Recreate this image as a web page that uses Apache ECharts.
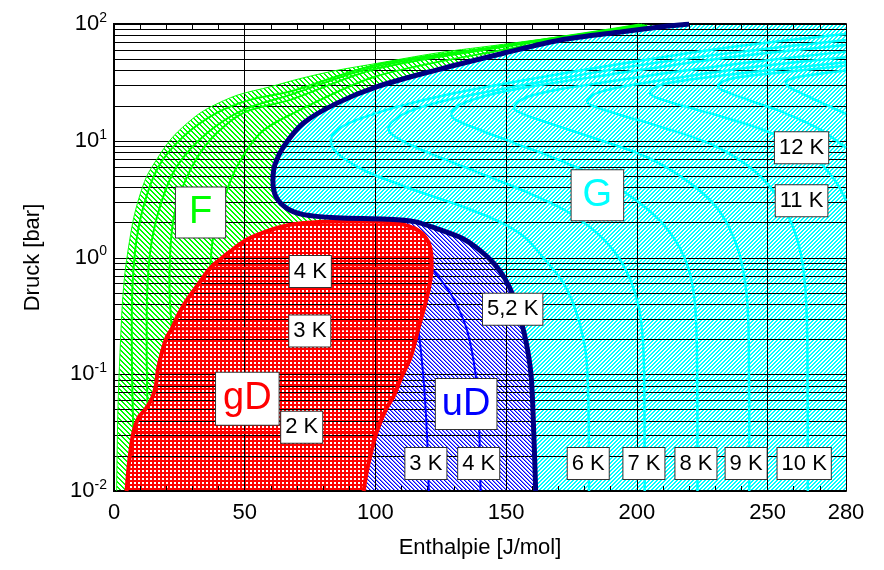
<!DOCTYPE html>
<html>
<head>
<meta charset="utf-8">
<script src="https://cdn.jsdelivr.net/npm/echarts@6.0.0/dist/echarts.min.js"></script>
<style>
  html, body { margin: 0; padding: 0; background: #fff; }
  #chart { width: 884px; height: 570px; }
</style>
</head>
<body>
<div id="chart"></div>
<script>
// Enthalpie [J/mol] / Druck [bar] pairs

// 5,2 K isotherm (thick navy), bottom -> top
const iso52 = [[161.3,0.01],[160.6,0.03],[159.5,0.1],[157,0.22],[153,0.45],[149.5,0.66],[145.5,0.88],[140,1.15],
  [133.5,1.45],[124,1.75],[115,2.03],[104.5,2.13],[85.3,2.19],[72.5,2.33],[66,2.65],[62,3.3],[60.8,4.5],[61.5,6.2],
  [65,9],[72.5,14.2],[85.3,21],[100.7,29.1],[123.6,40.5],[149,56.2],[170.9,73],[194.5,85.9],[212,96],[220,100]];

// two-phase boundary (red), closed loop
const satCurve = [[4.8,0.01],[5.8,0.018],[7.4,0.0317],[9.5,0.043],[12,0.05],[14.5,0.062],[16,0.08],[16.8,0.11],
  [18.5,0.16],[20.3,0.21],[22.1,0.245],[24.5,0.32],[27.5,0.42],[31.8,0.57],[36.8,0.81],[41,0.98],[46,1.2],[51,1.43],
  [58.6,1.68],[66,1.88],[74,1.98],[85,2.03],[100,2.03],[109,1.95],[115.5,1.75],[119.5,1.45],[121.3,1.1],[121.5,0.81],
  [120.5,0.55],[118.5,0.36],[116.4,0.245],[113.5,0.14],[110,0.095],[107,0.065],[104,0.05],[100.4,0.0317],
  [98.5,0.022],[96.8,0.015],[95.5,0.01]];

// outer edge of the liquid region F
const liquidEdge = [[1.0,0.01],[1.5,0.05],[2.3,0.153],[3.2,0.4],[4.2,0.74],[5.5,1.2],[7.4,2.11],[9.5,3.2],[12.5,4.95],
  [16.5,7],[20.5,9.5],[24.5,12],[31.7,16.5],[37,19.5],[47,24.5],[59.8,29],[71,34],[85,40],[100.6,46],[123.6,56.5],
  [149,67],[170.9,78],[190,89],[202,100]];

// liquid isotherms (green)
const liq2 = [[7.4,0.0317],[6.9,0.1],[6.8,0.3],[8,1.1],[11.2,2.7],[17,6],[26.6,10.9],[39.3,17.3],[52,22.4],[67.4,26.4],
  [100,44.6],[150,65.8],[190,90.3],[201,99]];
const liq25 = [[12.8,0.056],[12.5,0.15],[12.5,0.3],[13.8,1.1],[17.6,2.74],[24,6],[35.5,11.6],[49.5,18.4],[67.4,24.7],
  [100,43],[150,65],[190,89.5],[202,98.5]];
const liq3 = [[22.1,0.245],[21.2,0.57],[22.7,2.1],[27.9,4.9],[36.8,10.2],[49.5,17.3],[67.4,22.4],[100,41.1],[150,64],
  [190,88.7],[203,98]];
const liq4 = [[36.8,0.81],[38,1.52],[41.9,3.1],[47,6],[55.9,11.6],[67.4,16.7],[100,35.5],[150,60.8],[190,86.3],[204,97]];

// isotherms in the two-phase region (red, horizontal)
const wet2 = [[7.4,0.0317],[100.4,0.0317]];
const wet3 = [[22.1,0.245],[116.4,0.245]];
const wet4 = [[36.8,0.81],[121.5,0.81]];

// superheated vapour isotherms (blue)
const vap3 = [[116.4,0.245],[117.5,0.15],[118.7,0.075],[119.8,0.028],[120.4,0.01]];
const vap4 = [[121.5,0.81],[126,0.6],[130,0.44],[135,0.24],[138.3,0.1],[139.6,0.039],[140.2,0.01]];

// gas isotherms (cyan)
const gas6 = [[181.7,0.01],[181.5,0.05],[180.5,0.15],[177,0.33],[172,0.6],[165,0.95],[157,1.5],[146,2.1],[130,2.9],
  [112,4],[97,5.4],[88,7],[84,8.5],[83,9.8],[84,11.5],[88,13.5],[96,16],[110,20],[130,25.5],[160,34],[200,48],
  [240,65],[280,82]];
const gas7 = [[203,0.01],[202.8,0.1],[201.5,0.3],[198,0.6],[193,1.0],[185,1.6],[173,2.5],[157,3.7],[138,5.5],
  [122,7.6],[111,9.8],[106,11.5],[105,13],[107,15],[112,17.5],[121,20.5],[136,24.5],[160,31],[200,44],[240,58],[280,73]];
const gas8 = [[223.2,0.01],[223,0.15],[222,0.45],[219,0.9],[213,1.6],[204,2.6],[190,4.3],[172,6.6],[153,9.6],
  [139,12.6],[131,15],[129,16.8],[131,19.5],[136,22],[146,25.5],[163,30],[190,37],[230,50],[280,66]];
const gas9 = [[243,0.01],[242.8,0.2],[241.5,0.6],[238,1.3],[231,2.6],[220,4.4],[204,7.2],[184,10.5],[167,14],
  [157,16.8],[153,19],[155,21.8],[160,24.5],[170,27.5],[187,31.5],[215,39],[250,49],[280,58]];
const gas10 = [[265.4,0.01],[265.2,0.2],[264,0.7],[261,1.5],[255,3],[245,5.5],[229,9.2],[210,13],[193,16.8],
  [184,19.5],[181,21.5],[183,24.5],[188,27],[198,30],[215,34.5],[245,43],[280,52]];
const gas11 = [[280,3.07],[276,4.5],[267,7.5],[252,11.5],[235,15.5],[218,19.8],[208,23.2],[205,25.8],[207,28.8],
  [213,31.5],[225,34.5],[245,39],[280,47]];
const gas12 = [[280,8.7],[270,12.5],[256,17.5],[243,22.3],[234,26.3],[231,29.2],[233,32.3],[240,35.3],[255,38.5],
  [280,44]];
const gas13 = [[280,17],[271,21],[263,25.5],[258,29],[257,31.5],[260,34.5],[268,37],[280,40]];

// horizontal grid lines of the log axis
const pressureGrid = [0.02,0.03,0.04,0.05,0.06,0.07,0.08,0.09,0.1,0.2,0.3,0.4,0.5,0.6,0.7,0.8,0.9,1,
  2,3,4,5,6,7,8,9,10,20,30,40,50,60,70,80,90];

// boxed temperature labels
const tempText = ['12 K','11 K','5,2 K','4 K','3 K','2 K','3 K','4 K','6 K','7 K','8 K','9 K','10 K'];
const tempH = [263,263,152.5,75.1,74.9,71.8,119.3,139.5,181.4,202.7,222.6,241.8,264];
const tempP = [8.7,3.07,0.36,0.758,0.235,0.0352,0.0172,0.0172,0.0172,0.0172,0.0172,0.0172,0.0172];

// region labels
const regionText = ['F','G','gD','uD'];
const regionH = [33.1,184.9,51,134.7];
const regionP = [2.43,3.42,0.0618,0.0555];

const FONT = '"Liberation Sans", Arial, sans-serif';
const H_MIN = 0, H_MAX = 280, P_MIN = 0.01, P_MAX = 100;

// small repeating tiles: '/' and '\\' diagonal hatch, 'dots' = colour with white 2x2 holes
function hatch(color, period, width, kind, soft) {
  const c = document.createElement('canvas');
  c.width = period;
  c.height = period;
  const g = c.getContext('2d');
  g.fillStyle = '#fff';
  g.fillRect(0, 0, period, period);
  for (let x = 0; x < period; x++) {
    for (let y = 0; y < period; y++) {
      const a = (x + y) % period;
      const b = ((x - y) % period + period) % period;
      const d = kind === '/' ? a : b;
      if (kind === 'dots') {
        const hole = x >= period - width && y >= period - width;
        if (!hole) {
          g.fillStyle = color;
          g.fillRect(x, y, 1, 1);
        }
      } else if (d < width) {
        g.fillStyle = color;
        g.fillRect(x, y, 1, 1);
      } else if (soft && d === width) {
        g.fillStyle = soft;
        g.fillRect(x, y, 1, 1);
      }
    }
  }
  return { image: c, repeat: 'repeat' };
}

function area(pts, fill, z) {
  return {
    type: 'custom',
    coordinateSystem: 'cartesian2d',
    silent: true,
    clip: true,
    z: z,
    data: [pts[0]],
    renderItem: function (params, api) {
      return {
        type: 'polygon',
        shape: { points: pts.map(function (p) { return api.coord(p); }) },
        style: { fill: fill, stroke: null }
      };
    }
  };
}

function curve(data, color, width, z) {
  return {
    type: 'line',
    data: data,
    symbol: 'none',
    showSymbol: false,
    smooth: 0.3,
    silent: true,
    clip: true,
    z: z,
    lineStyle: { color: color, width: width }
  };
}

const cut = iso52.findIndex(function (p) { return p[0] === 85.3 && p[1] === 2.19; });
const gasArea = iso52.concat([[H_MAX, P_MAX], [H_MAX, P_MIN]]);
const liquidArea = liquidEdge.concat([[H_MAX, P_MAX], [H_MAX, P_MIN]]);
const vapourArea = iso52.slice(0, cut + 1).concat([[85.3, P_MIN]]);

const chart = echarts.init(document.getElementById('chart'));

const option = {
  animation: false,
  backgroundColor: '#fff',
  textStyle: { fontFamily: FONT },
  grid: { left: 114, right: 38, top: 24, height: 467 },
  xAxis: [
    {
      type: 'value', min: H_MIN, max: H_MAX, interval: 50, position: 'bottom', z: 6,
      axisLine: { show: true, lineStyle: { color: '#000', width: 2 } },
      axisTick: { show: false },
      splitLine: { show: true, lineStyle: { color: '#000', width: 1 } },
      axisLabel: { color: '#000', fontSize: 22, margin: 11, fontFamily: FONT },
      name: 'Enthalpie [J/mol]', nameLocation: 'middle', nameGap: 46,
      nameTextStyle: { color: '#000', fontSize: 22, fontFamily: FONT }
    },
    {
      type: 'value', min: H_MIN, max: H_MAX, interval: 10, position: 'bottom', z: 6,
      axisLine: { show: false },
      axisTick: { show: true, inside: true, length: 5, lineStyle: { color: '#000', width: 1 } },
      axisLabel: { show: false },
      splitLine: { show: false }
    },
    {
      type: 'value', min: H_MIN, max: H_MAX, interval: 10, position: 'top', z: 6,
      axisLine: { show: true, lineStyle: { color: '#000', width: 2 } },
      axisTick: { show: true, inside: true, length: 5, lineStyle: { color: '#000', width: 1 } },
      axisLabel: { show: false },
      splitLine: { show: false }
    }
  ],
  yAxis: [
    {
      type: 'log', logBase: 10, min: P_MIN, max: P_MAX, position: 'left', z: 6,
      axisLine: { show: true, lineStyle: { color: '#000', width: 2 } },
      axisTick: { show: false },
      splitLine: { show: false },
      axisLabel: {
        margin: 7,
        formatter: function (v) {
          return '{b|10}{s|' + Math.round(Math.log10(v)) + '}';
        },
        rich: {
          b: { fontSize: 22, color: '#000', fontFamily: FONT, lineHeight: 26 },
          s: { fontSize: 14, color: '#000', fontFamily: FONT, verticalAlign: 'top', lineHeight: 14 }
        }
      },
      name: 'Druck [bar]', nameLocation: 'middle', nameGap: 70,
      nameTextStyle: { color: '#000', fontSize: 22, fontFamily: FONT }
    },
    {
      type: 'log', logBase: 10, min: P_MIN, max: P_MAX, position: 'right', z: 6,
      axisLine: { show: true, lineStyle: { color: '#000', width: 2 } },
      axisTick: { show: false },
      axisLabel: { show: false },
      splitLine: { show: false }
    }
  ],
  series: [
    area(liquidArea, hatch('#00ff00', 5, 2, '\\'), 1),
    area(gasArea, hatch('#00ffff', 4, 2, '/'), 2),
    area(vapourArea, hatch('#0000ff', 4, 1, '\\', '#8080ff'), 3),
    area(satCurve, hatch('#ff0000', 4, 2, 'dots'), 4),
    {
      type: 'custom',
      coordinateSystem: 'cartesian2d',
      silent: true,
      z: 5,
      data: pressureGrid.map(function (p) { return [H_MIN, p]; }),
      renderItem: function (params, api) {
        const p = pressureGrid[params.dataIndex];
        const a = api.coord([H_MIN, p]);
        const b = api.coord([H_MAX, p]);
        const y = Math.round(a[1]) + 0.5;
        return {
          type: 'line',
          shape: { x1: a[0], y1: y, x2: b[0], y2: y },
          style: { stroke: '#000', lineWidth: 1 }
        };
      }
    },
    curve(liquidEdge, '#00ff00', 1, 7),
    curve(liq2, '#00ff00', 2, 7),
    curve(liq25, '#00ff00', 2, 7),
    curve(liq3, '#00ff00', 2, 7),
    curve(liq4, '#00ff00', 2, 7),
    curve(gas6, '#00ffff', 2.5, 7),
    curve(gas7, '#00ffff', 2.5, 7),
    curve(gas8, '#00ffff', 2.5, 7),
    curve(gas9, '#00ffff', 2.5, 7),
    curve(gas10, '#00ffff', 2.5, 7),
    curve(gas11, '#00ffff', 2.5, 7),
    curve(gas12, '#00ffff', 2.5, 7),
    curve(gas13, '#00ffff', 2.5, 7),
    curve(vap3, '#0000ff', 2, 7),
    curve(vap4, '#0000ff', 2, 7),
    curve(wet2, '#ff0000', 3, 8),
    curve(wet3, '#ff0000', 3, 8),
    curve(wet4, '#ff0000', 3, 8),
    curve(satCurve, '#ff0000', 4, 8),
    curve(iso52, '#000080', 5, 9),
    {
      type: 'custom',
      coordinateSystem: 'cartesian2d',
      silent: true,
      z: 10,
      data: tempH.map(function (h, i) { return [h, tempP[i]]; }),
      renderItem: function (params, api) {
        const i = params.dataIndex;
        const pt = api.coord([tempH[i], tempP[i]]);
        return {
          type: 'text',
          x: pt[0],
          y: pt[1],
          style: {
            text: tempText[i],
            font: '22px ' + FONT,
            fill: '#000',
            align: 'center',
            verticalAlign: 'middle',
            backgroundColor: '#fff',
            borderColor: '#333',
            borderWidth: 1,
            padding: [4, 4, 3, 4],
            lineHeight: 24
          }
        };
      }
    },
    {
      type: 'custom',
      coordinateSystem: 'cartesian2d',
      silent: true,
      z: 10,
      data: regionH.map(function (h, i) { return [h, regionP[i]]; }),
      renderItem: function (params, api) {
        const i = params.dataIndex;
        const colors = { F: '#00ff00', G: '#00ffff', gD: '#ff0000', uD: '#0000ff' };
        const pads = { F: [5, 13], G: [5, 11], gD: [6, 7], uD: [5, 6] };
        const pt = api.coord([regionH[i], regionP[i]]);
        return {
          type: 'text',
          x: pt[0],
          y: pt[1],
          style: {
            text: regionText[i],
            font: '38px ' + FONT,
            fill: colors[regionText[i]],
            align: 'center',
            verticalAlign: 'middle',
            backgroundColor: '#fff',
            borderColor: '#333',
            borderWidth: 1,
            padding: pads[regionText[i]],
            lineHeight: 40
          }
        };
      }
    }
  ]
};

chart.setOption(option);
</script>
</body>
</html>
